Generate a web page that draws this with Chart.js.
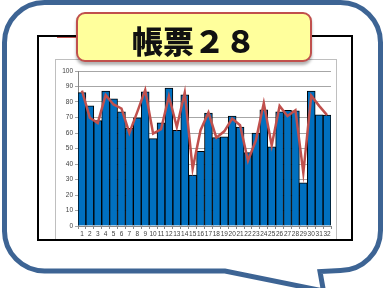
<!DOCTYPE html>
<html>
<head>
<meta charset="utf-8">
<script src="https://cdn.jsdelivr.net/npm/chart.js@4.4.0/dist/chart.umd.min.js"></script>
<style>
html,body{margin:0;padding:0;background:#fff;width:385px;height:288px;overflow:hidden;}
#bubble{position:absolute;left:0;top:0;}
#frame{position:absolute;left:37px;top:35px;width:312px;height:202px;border:2px solid #000;background:#fff;overflow:hidden;}
#redmark{position:absolute;left:18px;top:-1px;width:22px;height:2px;background:#c0504d;}
#gray{position:absolute;left:16px;top:22px;width:280px;height:200px;border:1px solid #bfbfbf;}
#wrap{position:absolute;left:18px;top:24px;width:282px;height:190px;}
#title{position:absolute;left:76px;top:12px;width:232px;background:#ffff9c;border:2px solid #c0504d;border-radius:9px;box-shadow:0 3px 3px rgba(0,0,0,0.3);
font-family:"Noto Sans CJK JP",sans-serif;font-weight:900;font-size:31px;color:#111;display:flex;align-items:center;justify-content:center;padding-top:4px;box-sizing:content-box;height:42px;}
</style>
</head>
<body>
<svg id="bubble" width="385" height="288">
<path d="M 44.5 2.5 H 340.5 A 40 40 0 0 1 380.5 42.5 V 230.5 A 40 40 0 0 1 340.5 270.5 L 320 271.5 L 323.5 291 L 225 271 H 44.5 A 40 40 0 0 1 4.5 230.5 V 42.5 A 40 40 0 0 1 44.5 2.5 Z" fill="#fff" stroke="#3d6494" stroke-width="5" stroke-linejoin="miter"/>
</svg>
<div id="frame">
  <div id="redmark"></div>
  <div id="gray"></div>
  <div id="wrap"><canvas id="c"></canvas></div>
</div>
<div id="title">帳票２８</div>
<script>
const categories = ["1","2","3","4","5","6","7","8","9","10","11","12","13","14","15","16","17","18","19","20","21","22","23","24","25","26","27","28","29","30","31","32"];
const barValues = [86,77.5,68,87,82,73.7,63,69.8,86.6,56.4,66.5,89,61.8,84.7,32.8,48.2,72.8,57,57.6,70.9,63.9,47.3,60,74.9,51,73.6,74.7,74.3,27.9,87,71.7,71.5];
const lineValues = [87.3,69.8,66.5,84.4,78.4,75.8,60,73.6,87.7,59.6,62.4,83.8,63.9,86.1,36.9,61.8,73.2,57,61.1,69.3,65,42.1,55.3,79.3,52,77.5,71,74.7,34.3,84,77.5,71.5];
const yTicks = [0,10,20,30,40,50,60,70,80,90,100];

const tickFont = {family:"'Liberation Sans',sans-serif", size:6.5};
new Chart(document.getElementById('c'), {
  data: {
    labels: categories,
    datasets: [
      {type:'line', data: lineValues, borderColor:'#c0504d', borderWidth:2.5, pointRadius:0, tension:0, order:0},
      {type:'bar', data: barValues, backgroundColor:'#0070c0', borderColor:'#000', borderWidth:1, barPercentage:1, categoryPercentage:1, order:1}
    ]
  },
  options: {
    responsive:true, maintainAspectRatio:false, animation:false,
    layout:{padding:{left:0,right:8,top:10,bottom:0}},
    plugins:{legend:{display:false}, tooltip:{enabled:false}},
    scales:{
      x:{
        grid:{display:true, drawOnChartArea:false, drawTicks:true, tickLength:3, color:'#888'},
        border:{color:'#888'},
        ticks:{font:tickFont, color:'#404040', autoSkip:false, maxRotation:0, minRotation:0, padding:1},
        afterFit(s){ s.height = 25; }
      },
      y:{
        min:0, max:100,
        afterBuildTicks(s){ s.ticks = yTicks.map(v=>({value:v})); },
        grid:{color:'#a6a6a6', tickLength:3, drawTicks:true},
        border:{color:'#888'},
        ticks:{font:tickFont, color:'#404040', padding:2},
        afterFit(s){ s.width = 21; }
      }
    }
  }
});
</script>
</body>
</html>
